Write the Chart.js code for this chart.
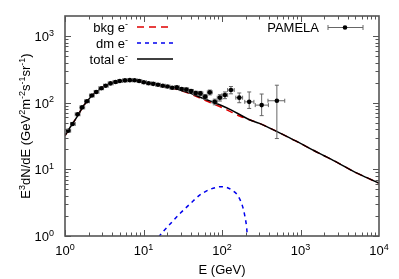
<!DOCTYPE html>
<html>
<head>
<meta charset="utf-8">
<script src="https://cdn.jsdelivr.net/npm/chart.js@4.4.1/dist/chart.umd.min.js"></script>
<style>
  html, body { margin: 0; padding: 0; background: #fff; }
  canvas { display: block; }
</style>
</head>
<body>
<canvas id="chart" width="399" height="279"></canvas>
<script>
// energy grid for the model curves (GeV)
const energy = [1, 1.15, 1.3, 1.5, 1.7, 1.95, 2.2, 2.6, 3, 3.5, 4, 5, 6.5, 8, 10, 13, 17, 22, 30, 40, 50, 65, 80, 100, 130, 170, 220, 300, 400, 550, 800, 1000, 1500, 2000, 3000, 5000, 7000, 10000];
const totalFlux = [32, 42, 52, 68, 88, 108, 128, 150, 170, 187, 200, 212, 218, 216, 205, 192, 180, 168, 154, 138, 124, 110, 100, 90, 78, 66, 56, 49, 42, 35, 28, 24.5, 19, 16, 12.5, 9, 7.5, 6.2];
const bkgFlux = [32, 42, 52, 68, 88, 108, 128, 150, 170, 187, 200, 212, 218, 216, 205, 192, 179, 166.5, 151.8, 135, 120, 105.2, 94.7, 84.5, 73, 62.5, 56, 49, 42, 35, 28, 24.5, 19, 16, 12.5, 9, 7.5, 6.2];

// dark matter contribution
const dmEnergy = [14, 16, 20, 25, 30, 40, 52, 70, 100, 133, 170, 196, 210, 215];
const dmFlux = [0.75, 1.0, 1.35, 1.8, 2.25, 3.1, 4.1, 5.0, 5.5, 4.9, 3.5, 1.95, 1.0, 0.5];

// PAMELA points
const pamelaE = [1.1, 1.25, 1.45, 1.65, 1.9, 2.2, 2.5, 2.9, 3.3, 3.8, 4.4, 5.0, 5.8, 6.7, 7.7, 8.8, 10.1, 11.6, 13.3, 15.3, 17.6, 20.2, 23.2, 26.6, 30.6, 35.1, 40.3, 46.3, 53, 61, 70, 81, 94, 109, 130, 166, 222, 320, 500];
const pamelaFlux = [38, 48, 67, 85, 105, 128, 145, 165, 180, 195, 205, 212, 216, 218, 217, 212, 203, 196, 192, 186, 180, 175, 168, 170, 160, 158, 150, 140, 138, 123, 143, 103, 119, 130, 155, 119, 103, 92, 107];
const pamelaFluxLo = [37, 47, 65, 83, 102, 125, 141, 161, 176, 190, 200, 207, 211, 213, 212, 207, 198, 191, 187, 181, 175, 169, 162, 164, 153, 150, 142, 131, 128, 113, 131, 93, 106, 115, 136, 100, 82, 64, 29];
const pamelaFluxHi = [39, 49, 69, 87, 108, 131, 149, 169, 184, 200, 210, 217, 221, 223, 222, 217, 208, 201, 197, 191, 185, 181, 174, 176, 167, 166, 158, 149, 148, 133, 155, 113, 132, 145, 175, 140, 145, 135, 183];
const pamelaELo = [1.05, 1.18, 1.35, 1.55, 1.78, 2.05, 2.35, 2.7, 3.1, 3.55, 4.1, 4.7, 5.4, 6.2, 7.2, 8.3, 9.5, 10.9, 12.5, 14.3, 16.4, 18.9, 21.7, 24.9, 28.6, 32.8, 37.6, 43.2, 49.6, 57, 65, 75, 87, 100, 118, 150, 195, 265, 385];
const pamelaEHi = [1.18, 1.35, 1.55, 1.78, 2.05, 2.35, 2.7, 3.1, 3.55, 4.1, 4.7, 5.4, 6.2, 7.2, 8.3, 9.5, 10.9, 12.5, 14.3, 16.4, 18.9, 21.7, 24.9, 28.6, 32.8, 37.6, 43.2, 49.6, 57, 65, 75, 87, 100, 118, 143, 183, 255, 390, 630];

const xTickDecades = [0, 1, 2, 3, 4];
const yTickDecades = [0, 1, 2, 3];

const FONT = '"Liberation Sans", Arial, sans-serif';

// draw "base" followed by a raised exponent, anchored by align
function drawRich(ctx, parts, x, y, align, size) {
    const supSize = Math.round(size * 0.7);
    let width = 0;
    parts.forEach(p => {
        ctx.font = (p.sup ? supSize : size) + 'px ' + FONT;
        p.w = ctx.measureText(p.t).width;
        width += p.w;
    });
    let cx = x;
    if (align === 'center') cx = x - width / 2;
    if (align === 'right') cx = x - width;
    ctx.textAlign = 'left';
    ctx.textBaseline = 'alphabetic';
    parts.forEach(p => {
        ctx.font = (p.sup ? supSize : size) + 'px ' + FONT;
        ctx.fillText(p.t, cx, p.sup ? y - size * 0.42 : y);
        cx += p.w;
    });
}

const errorBars = {
    id: 'errorBars',
    beforeDatasetDraw(chart, args) {
        if (args.index !== 0) return;
        const { ctx, scales: { x, y } } = chart;
        ctx.save();
        ctx.strokeStyle = '#666';
        ctx.lineWidth = 1;
        pamelaE.forEach((e, i) => {
            const px = x.getPixelForValue(e);
            const py = y.getPixelForValue(pamelaFlux[i]);
            const yl = y.getPixelForValue(pamelaFluxLo[i]);
            const yh = y.getPixelForValue(pamelaFluxHi[i]);
            const xl = x.getPixelForValue(pamelaELo[i]);
            const xh = x.getPixelForValue(pamelaEHi[i]);
            ctx.beginPath();
            ctx.moveTo(px, yl); ctx.lineTo(px, yh);
            ctx.moveTo(px - 2, yl); ctx.lineTo(px + 2, yl);
            ctx.moveTo(px - 2, yh); ctx.lineTo(px + 2, yh);
            ctx.moveTo(xl, py); ctx.lineTo(xh, py);
            ctx.moveTo(xl, py - 2); ctx.lineTo(xl, py + 2);
            ctx.moveTo(xh, py - 2); ctx.lineTo(xh, py + 2);
            ctx.stroke();
        });
        ctx.restore();
    }
};

const frame = {
    id: 'frame',
    afterDatasetsDraw(chart) {
        const { ctx, chartArea: a, scales: { x, y } } = chart;
        ctx.save();
        ctx.strokeStyle = '#555';
        ctx.lineWidth = 1;
        // minor and major ticks on all four sides, pointing inward
        ctx.beginPath();
        for (let d = 0; d < 4; d++) {
            for (let m = 1; m < 10; m++) {
                const v = m * Math.pow(10, d);
                const px = Math.round(x.getPixelForValue(v)) + 0.5;
                const len = m === 1 ? 6 : 3.5;
                ctx.moveTo(px, a.bottom); ctx.lineTo(px, a.bottom - len);
                ctx.moveTo(px, a.top); ctx.lineTo(px, a.top + len);
            }
        }
        for (let d = 0; d < 4; d++) {
            for (let m = 1; m < 10; m++) {
                const v = m * Math.pow(10, d);
                if (v >= y.max) break;
                const py = Math.round(y.getPixelForValue(v)) + 0.5;
                const len = m === 1 ? 6 : 3.5;
                ctx.moveTo(a.left, py); ctx.lineTo(a.left + len, py);
                ctx.moveTo(a.right, py); ctx.lineTo(a.right - len, py);
            }
        }
        ctx.stroke();
        ctx.lineWidth = 1.6;
        ctx.strokeRect(a.left, a.top, a.right - a.left, a.bottom - a.top);

        // tick labels
        ctx.fillStyle = '#000';
        xTickDecades.forEach(d => {
            const px = x.getPixelForValue(Math.pow(10, d));
            drawRich(ctx, [{ t: '10' }, { t: String(d), sup: true }], px, a.bottom + 19, 'center', 13);
        });
        yTickDecades.forEach(d => {
            const py = y.getPixelForValue(Math.pow(10, d));
            drawRich(ctx, [{ t: '10' }, { t: String(d), sup: true }], a.left - 11, py + 5, 'right', 13);
        });

        // axis titles
        drawRich(ctx, [{ t: 'E (GeV)' }], (a.left + a.right) / 2, 274, 'center', 13);
        ctx.save();
        ctx.translate(30, (a.top + a.bottom) / 2);
        ctx.rotate(-Math.PI / 2);
        drawRich(ctx, [
            { t: 'E' }, { t: '3', sup: true }, { t: 'dN/dE (GeV' }, { t: '2', sup: true },
            { t: 'm' }, { t: '-2', sup: true }, { t: 's' }, { t: '-1', sup: true },
            { t: 'sr' }, { t: '-1', sup: true }, { t: ')' }
        ], 0, 0, 'center', 13);
        ctx.restore();

        // legend
        const rows = [
            { label: 'bkg e', color: '#e00000', dash: [7, 5], y: 27 },
            { label: 'dm e', color: '#0000ee', dash: [4, 4], y: 43 },
            { label: 'total e', color: '#000', dash: [], y: 59 }
        ];
        rows.forEach(r => {
            drawRich(ctx, [{ t: r.label }, { t: '-', sup: true }], 128, r.y + 5, 'right', 13);
            ctx.beginPath();
            ctx.setLineDash(r.dash);
            ctx.strokeStyle = r.color;
            ctx.lineWidth = 1.5;
            ctx.moveTo(137, r.y); ctx.lineTo(173, r.y);
            ctx.stroke();
        });
        ctx.setLineDash([]);
        drawRich(ctx, [{ t: 'PAMELA' }], 319, 32, 'right', 13);
        ctx.strokeStyle = '#666';
        ctx.lineWidth = 1;
        ctx.beginPath();
        ctx.moveTo(328, 27.5); ctx.lineTo(363, 27.5);
        ctx.moveTo(328, 25); ctx.lineTo(328, 30);
        ctx.moveTo(363, 25); ctx.lineTo(363, 30);
        ctx.stroke();
        ctx.fillStyle = '#000';
        ctx.beginPath();
        ctx.arc(345, 27.5, 2.3, 0, Math.PI * 2);
        ctx.fill();
        ctx.restore();
    }
};

const toPoints = (xs, ys) => xs.map((v, i) => ({ x: v, y: ys[i] }));

new Chart(document.getElementById('chart'), {
    type: 'line',
    data: {
        datasets: [
            {
                label: 'PAMELA',
                data: toPoints(pamelaE, pamelaFlux),
                showLine: false,
                pointRadius: 2.3,
                pointBackgroundColor: '#000',
                pointBorderWidth: 0,
                clip: 0
            },
            {
                label: 'total e-',
                data: toPoints(energy, totalFlux),
                borderColor: '#000',
                borderWidth: 1.5,
                pointRadius: 0,
                cubicInterpolationMode: 'monotone',
                clip: 0
            },
            {
                label: 'dm e-',
                data: toPoints(dmEnergy, dmFlux),
                borderColor: '#0000ee',
                borderWidth: 1.5,
                borderDash: [4, 4],
                pointRadius: 0,
                cubicInterpolationMode: 'monotone',
                clip: 0
            },
            {
                label: 'bkg e-',
                data: toPoints(energy, bkgFlux),
                borderColor: '#e00000',
                borderWidth: 1.5,
                borderDash: [7, 5],
                pointRadius: 0,
                cubicInterpolationMode: 'monotone',
                clip: 0
            }
        ]
    },
    options: {
        responsive: false,
        animation: false,
        devicePixelRatio: 1,
        layout: { padding: { left: 65, right: 20, top: 16, bottom: 43 } },
        plugins: { legend: { display: false }, tooltip: { enabled: false } },
        scales: {
            x: { type: 'logarithmic', min: 1, max: 10000, display: false },
            y: { type: 'logarithmic', min: 1, max: 2000, display: false }
        }
    },
    plugins: [errorBars, frame]
});
</script>
</body>
</html>
